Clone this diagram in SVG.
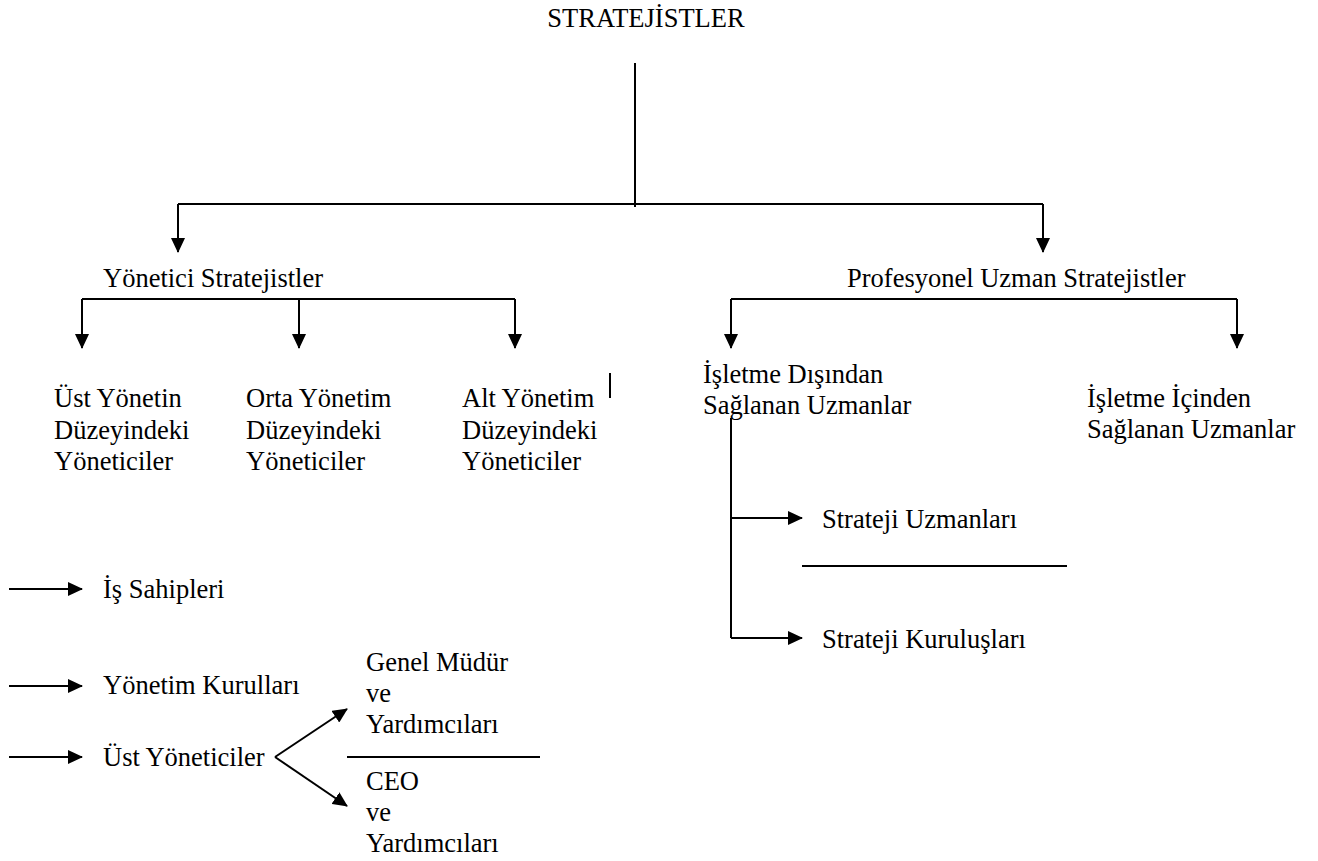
<svg xmlns="http://www.w3.org/2000/svg" width="1318" height="861" viewBox="0 0 1318 861">
  <style>
    text { font-family: "Liberation Serif", "Times New Roman", serif; font-size: 26.5px; fill: #000; }
    .ln { stroke: #000; stroke-width: 2; fill: none; }
    .ar { stroke: #000; stroke-width: 2; fill: none; marker-end: url(#ah); }
  </style>
  <defs>
    <marker id="ah" markerWidth="15" markerHeight="14" refX="14" refY="7" orient="auto" markerUnits="userSpaceOnUse">
      <path d="M0,0 L15,7 L0,14 Z" fill="#000"/>
    </marker>
  </defs>
  <rect width="1318" height="861" fill="#fff"/>

  <!-- connectors -->
  <g id="connectors">
    <!-- root trunk and first split -->
    <line class="ln" x1="635" y1="63" x2="635" y2="207"/>
    <line class="ln" x1="178" y1="204" x2="1043" y2="204"/>
    <line class="ar" x1="178" y1="204" x2="178" y2="252"/>
    <line class="ar" x1="1043" y1="204" x2="1043" y2="252"/>

    <!-- Yönetici Stratejistler split -->
    <line class="ln" x1="82" y1="299" x2="515" y2="299"/>
    <line class="ar" x1="82" y1="299" x2="82" y2="348"/>
    <line class="ar" x1="299" y1="299" x2="299" y2="348"/>
    <line class="ar" x1="515" y1="299" x2="515" y2="348"/>
    <line class="ln" x1="610" y1="373" x2="610" y2="398"/>

    <!-- Profesyonel Uzman Stratejistler split -->
    <line class="ln" x1="731" y1="299" x2="1237" y2="299"/>
    <line class="ar" x1="731" y1="299" x2="731" y2="348"/>
    <line class="ar" x1="1237" y1="299" x2="1237" y2="348"/>

    <!-- dış uzmanlar -->
    <line class="ln" x1="731" y1="418" x2="731" y2="638"/>
    <line class="ar" x1="731" y1="518" x2="802" y2="518"/>
    <line class="ar" x1="731" y1="638" x2="802" y2="638"/>
    <line class="ln" x1="802" y1="566" x2="1067" y2="566"/>

    <!-- yönetici türleri -->
    <line class="ar" x1="9" y1="589" x2="82" y2="589"/>
    <line class="ar" x1="9" y1="686" x2="82" y2="686"/>
    <line class="ar" x1="9" y1="757" x2="82" y2="757"/>

    <!-- üst yöneticiler split -->
    <line class="ar" x1="275" y1="757" x2="347" y2="709"/>
    <line class="ar" x1="275" y1="757" x2="347" y2="806"/>
    <line class="ln" x1="347" y1="757" x2="540" y2="757"/>
  </g>

  <g id="n-root"><text x="646" y="27" text-anchor="middle">STRATEJİSTLER</text></g>
  <g id="n-yonetici"><text x="103" y="287">Yönetici Stratejistler</text></g>
  <g id="n-profesyonel"><text x="847" y="287">Profesyonel Uzman Stratejistler</text></g>

  <g id="n-ust-yonetim">
    <text x="54" y="407">Üst Yönetin</text>
    <text x="54" y="439">Düzeyindeki</text>
    <text x="54" y="470">Yöneticiler</text>
  </g>
  <g id="n-orta-yonetim">
    <text x="246" y="407">Orta Yönetim</text>
    <text x="246" y="439">Düzeyindeki</text>
    <text x="246" y="470">Yöneticiler</text>
  </g>
  <g id="n-alt-yonetim">
    <text x="462" y="407">Alt Yönetim</text>
    <text x="462" y="439">Düzeyindeki</text>
    <text x="462" y="470">Yöneticiler</text>
  </g>

  <g id="n-dis-uzman">
    <text x="703" y="383">İşletme Dışından</text>
    <text x="703" y="414">Sağlanan Uzmanlar</text>
  </g>
  <g id="n-ic-uzman">
    <text x="1087" y="407">İşletme İçinden</text>
    <text x="1087" y="438">Sağlanan Uzmanlar</text>
  </g>

  <g id="n-strateji-uzmanlari"><text x="822" y="528">Strateji Uzmanları</text></g>
  <g id="n-strateji-kuruluslari"><text x="822" y="648">Strateji Kuruluşları</text></g>

  <g id="n-is-sahipleri"><text x="103" y="598">İş Sahipleri</text></g>
  <g id="n-yonetim-kurullari"><text x="103" y="694">Yönetim Kurulları</text></g>
  <g id="n-ust-yoneticiler"><text x="103" y="766">Üst Yöneticiler</text></g>

  <g id="n-genel-mudur">
    <text x="366" y="671">Genel Müdür</text>
    <text x="366" y="702">ve</text>
    <text x="366" y="733">Yardımcıları</text>
  </g>
  <g id="n-ceo">
    <text x="366" y="790">CEO</text>
    <text x="366" y="821">ve</text>
    <text x="366" y="852">Yardımcıları</text>
  </g>
</svg>
